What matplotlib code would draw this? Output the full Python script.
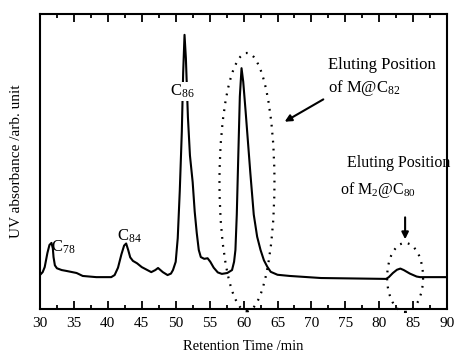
from matplotlib import pyplot as plt
from matplotlib.patches import Ellipse
from matplotlib.ticker import MultipleLocator

plt.rcParams['font.family'] = ['Liberation Serif', 'DejaVu Serif']
plt.rcParams['mathtext.fontset'] = 'custom'
plt.rcParams['mathtext.rm'] = 'Liberation Serif'
plt.rcParams['mathtext.it'] = 'Liberation Serif:italic'

# HPLC trace: retention time (min) vs UV absorbance (arb. unit)
time = [30.0, 30.4, 30.7, 31.1, 31.4, 31.7, 31.9, 32.0, 32.2, 32.5, 33.2, 33.9,
        35.4, 36.3, 38.3, 40.5, 41.0, 41.5, 42.0, 42.4, 42.7, 43.0, 43.3, 43.7,
        44.3, 45.0, 46.4, 47.0, 47.4, 48.1, 48.8, 49.3, 49.6, 50.0, 50.3, 50.6,
        50.9, 51.1, 51.3, 51.5, 51.8, 52.1, 52.5, 52.8, 53.1, 53.4, 53.7, 54.2,
        54.7, 55.1, 55.6, 56.2, 56.8, 57.6, 58.3, 58.6, 58.8, 59.0, 59.2, 59.45,
        59.7, 59.95, 60.3, 60.6, 61.0, 61.5, 62.0, 62.5, 63.0, 63.5, 64.0, 65.0,
        66.8, 71.4, 81.0, 81.4, 82.0, 82.6, 83.1, 83.6, 84.5, 85.5, 86.0, 90.0]
absorbance = [11.5, 12.5, 14.2, 19.0, 21.7, 22.4, 20.5, 17.6, 14.8, 13.8, 13.2, 12.9,
              12.2, 11.2, 10.8, 10.8, 11.5, 14.0, 18.5, 21.5, 22.2, 20.0, 17.5, 16.3,
              15.5, 14.2, 12.5, 13.2, 13.9, 12.5, 11.5, 12.0, 13.2, 16.0, 24.0, 40.0,
              60.0, 80.0, 92.9, 85.0, 65.0, 52.0, 43.0, 33.0, 25.8, 20.0, 17.6, 17.0,
              17.2, 16.0, 14.0, 12.4, 11.9, 12.2, 13.2, 16.0, 20.0, 32.0, 50.0, 72.0,
              81.6, 77.0, 67.0, 58.0, 46.0, 32.0, 24.5, 20.0, 16.5, 14.3, 12.6, 11.6,
              11.2, 10.5, 10.2, 10.8, 12.2, 13.3, 13.7, 13.2, 12.0, 11.0, 10.8, 10.8]

# peak labels: (text, time, absorbance)
peak_labels = [("C$_{78}$", 31.6, 21.0), ("C$_{84}$", 41.4, 24.7), ("C$_{86}$", 49.1, 73.6)]

fig = plt.figure(figsize=(4.54, 3.56), dpi=100)
ax = fig.add_axes([0.088, 0.132, 0.897, 0.829])

ax.plot(time, absorbance, color='black', lw=1.5)

for txt, t, a in peak_labels:
    lbl = ax.text(t, a, txt, fontsize=12, ha='left', va='center')
    if txt == "C$_{86}$":
        # label sits on top of the peak, blank out the line behind it
        lbl.set_bbox(dict(facecolor='white', edgecolor='none', pad=0.5))

# dotted regions where the metallofullerenes elute
ax.add_patch(Ellipse((60.5, 43.0), 8.1, 87.5, fill=False, ec='black',
                     lw=1.6, ls=(0, (0.8, 2.8)), clip_on=False))
ax.add_patch(Ellipse((83.8, 10.7), 5.3, 23.4, fill=False, ec='black',
                     lw=1.6, ls=(0, (0.8, 2.8)), clip_on=False))

ax.text(72.5, 82.8, "Eluting Position", fontsize=12, ha='left', va='center')
ax.text(72.5, 74.8, "of M@C$_{82}$", fontsize=12, ha='left', va='center')
ax.annotate("", xy=(65.7, 63.0), xytext=(72.1, 71.5),
            arrowprops=dict(arrowstyle='-|>', color='black', lw=1.5, mutation_scale=10))

ax.text(75.2, 49.5, "Eluting Position", fontsize=11.5, ha='left', va='center')
ax.text(74.2, 40.3, "of M$_2$@C$_{80}$", fontsize=11.5, ha='left', va='center')
ax.annotate("", xy=(83.8, 22.7), xytext=(83.8, 32.0),
            arrowprops=dict(arrowstyle='-|>', color='black', lw=1.5, mutation_scale=10))

ax.set_xlim(30, 90)
ax.set_ylim(0, 100)
ax.xaxis.set_major_locator(MultipleLocator(5))
ax.xaxis.set_minor_locator(MultipleLocator(2.5))
ax.tick_params(axis='x', which='both', direction='in', top=True, labelsize=11,
               width=1.3, pad=6)
ax.tick_params(axis='x', which='major', length=6)
ax.tick_params(axis='x', which='minor', length=3)
ax.set_yticks([])
for s in ax.spines.values():
    s.set_linewidth(1.5)

ax.set_xlabel("Retention Time /min", fontsize=10.5, labelpad=7)
ax.set_ylabel("UV absorbance /arb. unit", fontsize=11, labelpad=12)

plt.savefig("out.png", dpi=100)
